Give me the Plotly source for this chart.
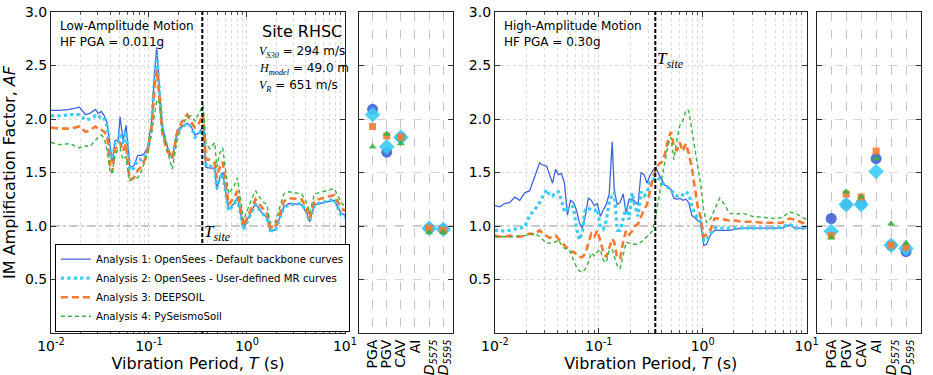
import math
import plotly.graph_objects as go

# ---------------- Low-amplitude motion: spectral amplification ----------------
period_low = [0.0100, 0.0123, 0.0155, 0.0196, 0.0225, 0.0247, 0.0284, 0.0304, 0.0326, 0.0350,
              0.0375, 0.0402, 0.0421, 0.0451, 0.0484, 0.0507, 0.0543, 0.0583, 0.0610, 0.0639,
              0.0701, 0.0769, 0.0844, 0.0905, 0.0970, 0.106, 0.114, 0.120, 0.128, 0.137,
              0.154, 0.173, 0.195, 0.218, 0.245, 0.269, 0.295, 0.324, 0.356, 0.381,
              0.418, 0.469, 0.492, 0.527, 0.565, 0.650, 0.746, 0.800, 0.920, 1.06,
              1.22, 1.43, 1.60, 1.72, 1.93, 2.38, 2.67, 3.61, 4.06, 4.35,
              4.89, 7.77, 9.14, 10.0]
af_low_a1 = [2.08, 2.08, 2.09, 2.11, 2.04, 2.05, 2.09, 2.05, 2.07, 2.03,
             1.96, 1.71, 1.60, 1.80, 1.80, 2.02, 1.80, 1.94, 1.71, 1.55,
             1.56, 1.66, 1.66, 1.68, 1.74, 1.96, 2.43, 2.67, 2.27, 1.93,
             1.74, 1.63, 1.90, 1.93, 1.96, 1.93, 1.85, 1.87, 1.93, 1.55,
             1.54, 1.54, 1.34, 1.45, 1.50, 1.15, 1.22, 1.27, 0.98, 1.10,
             1.21, 1.12, 1.08, 0.96, 0.96, 1.18, 1.21, 1.20, 1.12, 1.04,
             1.20, 1.24, 1.12, 1.10]
af_low_a2 = [2.03, 2.03, 2.04, 2.04, 1.99, 2.00, 2.03, 2.01, 2.03, 2.00,
             1.93, 1.68, 1.59, 1.77, 1.76, 1.87, 1.76, 1.88, 1.70, 1.52,
             1.54, 1.62, 1.62, 1.64, 1.70, 1.93, 2.38, 2.60, 2.25, 1.91,
             1.72, 1.64, 1.88, 1.93, 1.95, 1.93, 1.83, 1.86, 1.93, 1.56,
             1.56, 1.54, 1.35, 1.45, 1.49, 1.14, 1.21, 1.26, 0.97, 1.08,
             1.20, 1.12, 1.07, 0.96, 0.95, 1.17, 1.20, 1.21, 1.13, 1.04,
             1.20, 1.25, 1.10, 1.08]
af_low_a3 = [1.92, 1.91, 1.91, 1.93, 1.88, 1.89, 1.93, 1.90, 1.90, 1.88,
             1.84, 1.55, 1.50, 1.72, 1.74, 1.78, 1.70, 1.77, 1.55, 1.43,
             1.45, 1.52, 1.56, 1.62, 1.70, 1.92, 2.30, 2.46, 2.20, 1.86,
             1.70, 1.63, 1.88, 1.98, 2.04, 1.97, 1.92, 1.96, 2.05, 1.62,
             1.62, 1.59, 1.45, 1.55, 1.60, 1.20, 1.27, 1.33, 1.00, 1.12,
             1.25, 1.17, 1.12, 0.99, 0.98, 1.23, 1.26, 1.25, 1.17, 1.07,
             1.24, 1.29, 1.17, 1.14]
af_low_a4 = [1.78, 1.76, 1.77, 1.73, 1.75, 1.74, 1.80, 1.83, 1.85, 1.82,
             1.70, 1.49, 1.50, 1.66, 1.72, 1.73, 1.62, 1.65, 1.50, 1.42,
             1.45, 1.45, 1.52, 1.60, 1.68, 1.86, 2.05, 2.18, 2.15, 1.90,
             1.70, 1.53, 1.82, 1.94, 2.02, 2.03, 1.98, 2.05, 2.13, 1.78,
             1.72, 1.78, 1.55, 1.68, 1.73, 1.30, 1.38, 1.45, 1.05, 1.20,
             1.33, 1.23, 1.20, 1.03, 1.03, 1.30, 1.32, 1.30, 1.22, 1.12,
             1.30, 1.35, 1.22, 1.18]

# ---------------- High-amplitude motion: spectral amplification ----------------
period_high = [0.0100, 0.01116, 0.01246, 0.01392, 0.01554, 0.01735, 0.01937, 0.02162, 0.02415, 0.02696,
               0.02880, 0.03145, 0.03360, 0.03589, 0.03834, 0.04097, 0.04376, 0.04676, 0.04995, 0.05337,
               0.05702, 0.06091, 0.06507, 0.06952, 0.07427, 0.07935, 0.08477, 0.09057, 0.09674, 0.1034,
               0.1104, 0.1180, 0.1260, 0.1347, 0.1407, 0.1503, 0.1606, 0.1716, 0.1833, 0.1958,
               0.2092, 0.2235, 0.2388, 0.2551, 0.2725, 0.2911, 0.3110, 0.3323, 0.3550, 0.3793,
               0.4053, 0.4330, 0.4626, 0.4942, 0.5279, 0.5640, 0.6025, 0.6437, 0.6877, 0.7347,
               0.7849, 0.8385, 0.8959, 0.9571, 1.022, 1.092, 1.193, 1.303, 1.455, 1.624,
               1.813, 2.070, 2.415, 3.010, 3.752, 4.995, 5.830, 6.802, 7.762, 9.056,
               10.0]
af_high_a1 = [1.19, 1.18, 1.21, 1.22, 1.27, 1.24, 1.31, 1.33, 1.46, 1.59,
              1.57, 1.56, 1.48, 1.40, 1.53, 1.48, 1.49, 1.40, 1.10, 1.24,
              1.22, 1.15, 1.03, 0.98, 1.10, 1.26, 1.24, 1.19, 1.21, 1.09,
              1.15, 1.20, 1.30, 1.79, 1.34, 1.20, 1.22, 1.30, 1.12, 1.25,
              1.25, 1.22, 1.20, 1.50, 1.48, 1.40, 1.47, 1.52, 1.55, 1.48,
              1.43, 1.38, 1.37, 1.34, 1.26, 1.25, 1.26, 1.24, 1.25, 1.22,
              1.10, 1.08, 1.05, 1.03, 0.82, 0.83, 0.92, 0.96, 0.96, 0.96,
              0.96, 0.97, 0.98, 0.98, 0.98, 0.98, 0.98, 1.01, 0.98, 0.98,
              0.98]
af_high_a2 = [0.96, 0.96, 0.95, 0.96, 0.97, 0.98, 0.99, 1.10, 1.15, 1.22,
              1.27, 1.34, 1.29, 1.28, 1.32, 1.32, 1.24, 1.13, 1.16, 1.18,
              1.18, 0.98, 0.87, 0.95, 1.15, 1.17, 1.15, 1.14, 1.16, 0.99,
              0.97, 1.05, 1.22, 1.30, 1.31, 0.96, 0.96, 1.08, 1.18, 1.06,
              1.31, 1.18, 1.09, 1.32, 1.28, 1.31, 1.41, 1.43, 1.46, 1.44,
              1.40, 1.38, 1.36, 1.34, 1.30, 1.28, 1.30, 1.29, 1.32, 1.30,
              1.20, 1.11, 1.08, 1.04, 0.86, 0.87, 0.93, 0.98, 0.98, 0.98,
              0.98, 0.98, 0.98, 0.98, 0.98, 0.98, 0.99, 1.02, 0.98, 0.98,
              0.98]
af_high_a3 = [0.91, 0.90, 0.90, 0.91, 0.90, 0.90, 0.91, 0.93, 0.92, 0.96,
              0.93, 0.91, 0.89, 0.90, 0.91, 0.88, 0.85, 0.82, 0.80, 0.76,
              0.76, 0.73, 0.71, 0.71, 0.74, 0.84, 0.93, 0.90, 0.96, 0.86,
              0.76, 0.71, 0.80, 0.88, 0.85, 0.70, 0.70, 0.85, 0.96, 0.92,
              0.95, 1.00, 1.02, 1.09, 1.15, 1.20, 1.33, 1.45, 1.53, 1.58,
              1.60, 1.67, 1.80, 1.88, 1.75, 1.70, 1.78, 1.70, 1.77, 1.68,
              1.55, 1.35, 1.18, 1.08, 0.90, 0.92, 0.97, 1.07, 1.07, 1.06,
              1.05, 1.05, 1.04, 1.04, 1.03, 1.03, 1.03, 1.07, 1.06, 1.03,
              1.03]
af_high_a4 = [0.90, 0.90, 0.90, 0.90, 0.90, 0.91, 0.91, 0.92, 0.93, 0.90,
              0.87, 0.84, 0.84, 0.85, 0.85, 0.87, 0.82, 0.79, 0.78, 0.76,
              0.68, 0.62, 0.58, 0.57, 0.60, 0.66, 0.75, 0.72, 0.76, 0.78,
              0.68, 0.66, 0.77, 0.78, 0.72, 0.63, 0.60, 0.74, 0.85, 0.84,
              0.83, 0.83, 0.83, 0.85, 0.88, 0.90, 0.93, 0.96, 1.10, 1.26,
              1.45, 1.62, 1.75, 1.83, 1.62, 1.80, 1.94, 1.98, 2.08, 2.08,
              1.90, 1.70, 1.55, 1.38, 1.15, 1.03, 1.07, 1.15, 1.26, 1.20,
              1.12, 1.11, 1.12, 1.09, 1.08, 1.07, 1.08, 1.13, 1.12, 1.08,
              1.06]

# ---------------- Intensity-measure amplification ----------------
im_labels = ["PGA", "PGV", "CAV", "AI", "<i>D</i><sub><i>5575</i></sub>", "<i>D</i><sub><i>5595</i></sub>"]
im_index = [0, 1, 2, 3, 4, 5]
im_low_a1 = [2.09, 1.69, 1.83, None, 0.98, 0.97]
im_low_a2 = [2.04, 1.74, 1.83, None, 0.98, 0.97]
im_low_a3 = [1.93, 1.84, 1.83, None, 0.98, 0.96]
im_low_a4 = [1.74, 1.86, 1.77, None, 0.94, 0.94]
im_high_a1 = [1.07, 1.20, 1.21, 1.63, 0.82, 0.76]
im_high_a2 = [0.95, 1.20, 1.20, 1.51, 0.82, 0.79]
im_high_a3 = [0.91, 1.30, 1.27, 1.70, 0.82, 0.80]
im_high_a4 = [0.89, 1.32, 1.27, 1.63, 1.02, 0.84]

T_SITE = 0.35

names = ["Analysis 1: OpenSees - Default backbone curves",
         "Analysis 2: OpenSees - User-defined MR curves",
         "Analysis 3: DEEPSOIL",
         "Analysis 4: PySeismoSoil"]
colors = ["#3f63dc", "#3ccbf4", "#f47b30", "#3cb043"]
line_styles = [dict(width=1.3, dash="solid"),
               dict(width=3.2, dash="dot"),
               dict(width=2.6, dash="7px,4px"),
               dict(width=1.4, dash="4px,3px")]
marker_styles = [dict(symbol="circle", size=11),
                 dict(symbol="diamond", size=12),
                 dict(symbol="square", size=7),
                 dict(symbol="triangle-up", size=7)]

fig = go.Figure()

low_sets = [af_low_a1, af_low_a2, af_low_a3, af_low_a4]
high_sets = [af_high_a1, af_high_a2, af_high_a3, af_high_a4]
im_low_sets = [im_low_a1, im_low_a2, im_low_a3, im_low_a4]
im_high_sets = [im_high_a1, im_high_a2, im_high_a3, im_high_a4]

for i in range(4):
    fig.add_trace(go.Scatter(x=period_low, y=low_sets[i], mode="lines", name=names[i],
                             line=dict(color=colors[i], **line_styles[i]),
                             xaxis="x", yaxis="y", legendgroup=str(i)))
for i in range(4):
    fig.add_trace(go.Scatter(x=period_high, y=high_sets[i], mode="lines", name=names[i],
                             line=dict(color=colors[i], **line_styles[i]),
                             xaxis="x3", yaxis="y3", showlegend=False, legendgroup=str(i)))
for i in range(4):
    fig.add_trace(go.Scatter(x=im_index, y=im_low_sets[i], mode="markers", name=names[i],
                             marker=dict(color=colors[i], opacity=0.9, **marker_styles[i]),
                             xaxis="x2", yaxis="y2", showlegend=False, legendgroup=str(i)))
    fig.add_trace(go.Scatter(x=im_index, y=im_high_sets[i], mode="markers", name=names[i],
                             marker=dict(color=colors[i], opacity=0.9, **marker_styles[i]),
                             xaxis="x4", yaxis="y4", showlegend=False, legendgroup=str(i)))

TICK_FONT = dict(family="DejaVu Sans", size=14, color="black")
decades = [0.01, 0.1, 1, 10]
decade_text = ["10<sup>-2</sup>", "10<sup>-1</sup>", "10<sup>0</sup>", "10<sup>1</sup>"]
minor_vals = [m * d for d in [0.01, 0.1, 1] for m in range(2, 10)]

def spectral_xaxis(domain, anchor):
    return dict(type="log", domain=domain, anchor=anchor, range=[-2, 1],
                tickvals=decades, ticktext=decade_text, tickfont=TICK_FONT,
                ticks="inside", ticklen=5, tickcolor="#333", mirror="allticks",
                showline=True, linecolor="#222", linewidth=1,
                showgrid=True, gridcolor="#d0d0d0", griddash="dot", gridwidth=1,
                minor=dict(tickvals=minor_vals, ticks="inside", ticklen=3, tickcolor="#555",
                           showgrid=True, gridcolor="#dcdcdc", griddash="dot"),
                title=dict(text="Vibration Period, <i>T</i> (s)",
                           font=dict(family="DejaVu Sans", size=16, color="black"), standoff=4),
                zeroline=False)

def im_xaxis(domain, anchor, rng):
    return dict(domain=domain, anchor=anchor, range=rng,
                tickvals=im_index, ticktext=im_labels, tickangle=-90, tickfont=TICK_FONT,
                ticks="", mirror=True, showline=True, linecolor="#222", linewidth=1,
                showgrid=True, gridcolor="#c4c4c4", griddash="dash", gridwidth=1,
                zeroline=False)

def yaxis_def(anchor, labels):
    return dict(domain=[0, 1], anchor=anchor, range=[0, 3],
                tickvals=[0.5, 1.0, 1.5, 2.0, 2.5, 3.0], tickformat=".1f",
                showticklabels=labels, tickfont=TICK_FONT,
                ticks="inside", ticklen=5, tickcolor="#333", mirror="allticks",
                showline=True, linecolor="#222", linewidth=1,
                showgrid=True, gridcolor="#d6d6d6", griddash="dot" if labels else "dash",
                zeroline=False)

DOM_L = [0.0, 0.3379]
DOM_IM1 = [0.3537, 0.4626]
DOM_R = [0.5102, 0.8685]
DOM_IM2 = [0.8810, 1.0]

fig.update_layout(
    width=933, height=375,
    margin=dict(l=51, r=0, t=12, b=42),
    paper_bgcolor="white", plot_bgcolor="white",
    xaxis=spectral_xaxis(DOM_L, "y"),
    xaxis2=im_xaxis(DOM_IM1, "y2", [-0.98, 5.72]),
    xaxis3=spectral_xaxis(DOM_R, "y3"),
    xaxis4=im_xaxis(DOM_IM2, "y4", [-0.92, 6.0]),
    yaxis=dict(yaxis_def("x", True),
               title=dict(text="IM Amplification Factor, <i>AF</i>",
                          font=dict(family="DejaVu Sans", size=16, color="black"), standoff=8)),
    yaxis2=yaxis_def("x2", False),
    yaxis3=yaxis_def("x3", True),
    yaxis4=yaxis_def("x4", False),
    showlegend=True,
    legend=dict(x=0.0045, y=0.004, xanchor="left", yanchor="bottom",
                bgcolor="white", bordercolor="black", borderwidth=1,
                font=dict(family="DejaVu Sans", size=10.2, color="black"),
                tracegroupgap=0, itemwidth=30),
)

# reference line AF = 1 and site period markers
for xr, yr, dash in [("x", "y", "dashdot"), ("x3", "y3", "dashdot"),
                     ("x2", "y2", "dash"), ("x4", "y4", "dash")]:
    fig.add_shape(type="line", xref=xr + " domain", yref=yr, x0=0, x1=1, y0=1.0, y1=1.0,
                  line=dict(color="#8a8a8a", width=1, dash=dash), layer="below")
for xr, yr in [("x", "y"), ("x3", "y3")]:
    fig.add_shape(type="line", xref=xr, yref=yr, x0=T_SITE, x1=T_SITE, y0=0, y1=3,
                  line=dict(color="black", width=2, dash="4px,2px"))

SANS = dict(family="DejaVu Sans", size=12, color="black")
SERIF = "font-family:'Liberation Serif'"

def note(text, xref, yref, x, y, font, xanchor="left", yanchor="top"):
    fig.add_annotation(text=text, xref=xref, yref=yref, x=x, y=y, showarrow=False,
                       xanchor=xanchor, yanchor=yanchor, align="left", font=font)

note("Low-Amplitude Motion<br>HF PGA = 0.011g", "x domain", "y domain", 0.024, 0.985, SANS)
note("High-Amplitude Motion<br>HF PGA = 0.30g", "x3 domain", "y3 domain", 0.024, 0.985, SANS)
note("Site RHSC", "x domain", "y domain", 0.995, 0.975, dict(family="DejaVu Sans", size=16, color="black"),
     xanchor="right")
site_lines = [f"<span style=\"{SERIF}\"><i>V</i><sub><i>S30</i></sub></span> = 294 m/s",
              f"<span style=\"{SERIF}\"><i>H</i><sub><i>model</i></sub></span> = 49.0 m",
              f"<span style=\"{SERIF}\"><i>V</i><sub><i>R</i></sub></span> = 651 m/s"]
for k, line in enumerate(site_lines):
    note(line, "x domain", "y domain", 0.70, 0.905 - k * 0.052, SANS)

# annotations on a log axis take log10 positions
TSITE_FONT = dict(family="Liberation Serif", size=17, color="black")
note("<i>T</i><sub><i>site</i></sub>", "x", "y", math.log10(T_SITE), 0.935, TSITE_FONT,
     xanchor="left", yanchor="middle")
note("<i>T</i><sub><i>site</i></sub>", "x3", "y3", math.log10(T_SITE), 2.55, TSITE_FONT,
     xanchor="left", yanchor="middle")

fig.write_html("out.html")
